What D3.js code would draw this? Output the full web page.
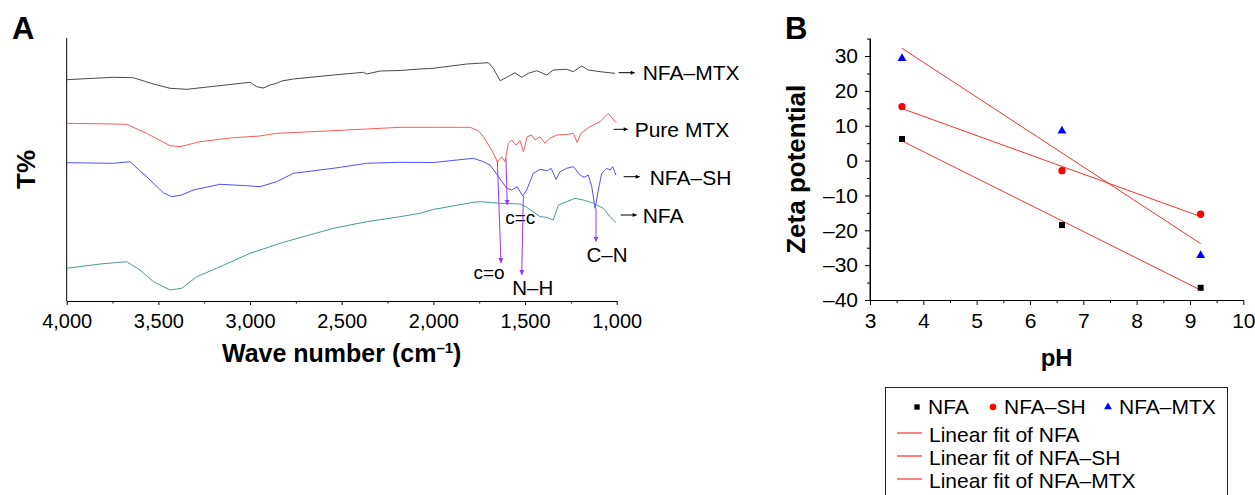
<!DOCTYPE html>
<html>
<head>
<meta charset="utf-8">
<script src="https://cdn.jsdelivr.net/npm/d3@7"></script>
<style>
  body { margin: 0; background: #fff; }
  svg { font-family: "Liberation Sans", Arial, sans-serif; }
  .axis path, .axis line { stroke: #000; stroke-width: 1; }
  .axis text { fill: #000; }
</style>
</head>
<body>
<svg id="chart" width="1255" height="495"></svg>
<script>
// ---- Panel A: FTIR spectra, [wave number, T% (arbitrary offset units)] ----
const specNFA_MTX = [
  [4000,221.3],[3855,222.7],[3746,223.7],[3637,223.3],[3527,217],[3436,212.7],[3345,211.7],
  [3182,215],[3000,218.7],[2964,214.3],[2927,213],[2891,216],[2855,217.7],[2827,220],[2764,222],
  [2545,226],[2382,228.7],[2364,227],[2291,230],[2182,230.5],[2073,232],[2000,232.7],[1818,237],
  [1700,238.3],[1673,232.7],[1636,220.3],[1600,223.7],[1555,228.3],[1518,223.7],[1482,227.7],
  [1436,230.3],[1382,226],[1346,231],[1273,231.7],[1237,229.3],[1191,235],[1155,231],[1091,229.3],
  [1009,227.7]
];
const specPureMTX = [
  [4000,177.7],[3746,177],[3673,176.7],[3564,167.7],[3436,155.3],[3382,154.3],[3273,159.3],
  [3091,163.3],[2946,165],[2855,167.7],[2545,170.3],[2364,172],[2182,173.7],[2000,173.7],
  [1800,173.7],[1755,170.3],[1727,164.3],[1682,151],[1651,139.3],[1627,144.3],[1609,139.3],
  [1591,157.7],[1573,161],[1549,156],[1527,160.3],[1509,149.3],[1488,164.3],[1464,166],
  [1445,161],[1418,164.3],[1391,157.7],[1364,162.7],[1327,166],[1273,166.5],[1236,167.7],
  [1215,158.3],[1196,167.7],[1146,174.3],[1091,179.3],[1046,187.7],[1004,178.3]
];
const specNFA_SH = [
  [4000,138.3],[3746,137.7],[3655,139.3],[3564,124.3],[3473,108.3],[3427,104.3],[3373,106],
  [3309,111],[3164,116.7],[3018,115.3],[2946,114.3],[2855,119.3],[2764,127.7],[2545,132.7],
  [2364,137.7],[2182,138.7],[2000,138.5],[1782,142.7],[1727,139.3],[1691,136],[1645,124.3],
  [1600,112.7],[1573,111],[1542,114.3],[1513,105],[1491,111],[1455,127.7],[1418,131.7],
  [1378,130.3],[1358,132.7],[1331,121.7],[1309,129.3],[1273,132.7],[1236,134.3],[1200,126],
  [1178,123.7],[1155,126],[1136,114.3],[1118,92.7],[1100,111],[1082,127.7],[1055,132.7],
  [1036,131],[1022,134.3],[1004,126]
];
const specNFA = [
  [4000,32.7],[3818,37],[3673,39.3],[3600,31],[3527,19.3],[3436,11],[3373,12.7],[3291,24.3],
  [3182,32.7],[3000,47.7],[2818,58.7],[2545,72.7],[2364,79.3],[2182,84.3],[2073,87.7],
  [2000,91.7],[1964,92.7],[1782,98.7],[1745,99.3],[1636,97.7],[1527,97],[1491,93.7],[1418,84.3],
  [1382,83.7],[1346,81],[1318,96],[1273,99.3],[1227,102.7],[1182,101],[1127,97.7],[1073,92.7],
  [1036,84.3],[1004,78.3]
];
const spectraNames  = ["NFA–MTX", "Pure MTX", "NFA–SH", "NFA"];
const spectraData   = [specNFA_MTX, specPureMTX, specNFA_SH, specNFA];
const spectraColors = ["#4a4a4a", "#ff5a5a", "#5050ff", "#4a9a98"];

// peak assignments: label, wave number at peak / at arrow tip, T at peak / at tip
const peakLabels = ["c=o", "c=c", "N–H", "C–N"];
const peakWnFrom = [1651, 1604, 1509, 1113];
const peakWnTo   = [1631, 1597, 1518, 1113];
const peakTFrom  = [140.3, 142.7, 105, 92.7];
const peakTTo    = [38, 96, 26, 59.3];

const wnMajor = [4000, 3500, 3000, 2500, 2000, 1500, 1000];
const wnMinor = [3750, 3250, 2750, 2250, 1750, 1250];

// ---- Panel B: zeta potential vs pH ----
const pH       = [3.6, 6.6, 9.2];
const zetaNFA    = [6.2, -18.5, -36.5];
const zetaNFA_SH = [15.5, -2.9, -15.4];
const zetaNFA_MTX = [29.3, 8.5, -27.2];
const zetaNames = ["NFA", "NFA–SH", "NFA–MTX"];
const zetaSeries = [zetaNFA, zetaNFA_SH, zetaNFA_MTX];
const zetaColors = ["#000", "#ff0000", "#0000ff"];

const pHTicks = [3, 4, 5, 6, 7, 8, 9, 10];
const pHMinor = [3.5, 4.5, 5.5, 6.5, 7.5, 8.5, 9.5];
const zTicks = [-40, -30, -20, -10, 0, 10, 20, 30];
const zMinor = [-35, -25, -15, -5, 5, 15, 25, 35];

const svg = d3.select("#chart");
const FONT = '"Liberation Sans", Arial, sans-serif';
const FIT_RED = "#ff3030";

const defs = svg.append("defs");
defs.append("marker").attr("id", "purpleHead")
  .attr("viewBox", "0 0 10 10").attr("refX", 10).attr("refY", 5)
  .attr("markerWidth", 5).attr("markerHeight", 7).attr("markerUnits", "userSpaceOnUse")
  .attr("orient", "auto")
  .append("path").attr("d", "M0,0L10,5L0,10Z").attr("fill", "#9933ff");
defs.append("marker").attr("id", "blackHead")
  .attr("viewBox", "0 0 10 10").attr("refX", 10).attr("refY", 5)
  .attr("markerWidth", 6).attr("markerHeight", 4).attr("markerUnits", "userSpaceOnUse")
  .attr("orient", "auto")
  .append("path").attr("d", "M0,0L10,5L0,10Z").attr("fill", "#000");

// ================= Panel A =================
const xA = d3.scaleLinear().domain([4000, 1000]).range([66.7, 616.7]);
const yA = d3.scaleLinear().domain([0, 263]).range([301, 38]);

const gA = svg.append("g");

gA.append("g").attr("class", "axis")
  .attr("transform", `translate(0,${yA(0)})`)
  .call(d3.axisBottom(xA).tickValues(wnMinor).tickSize(2.5).tickFormat(""))
  .select(".domain").remove();
gA.append("g").attr("class", "axis")
  .attr("transform", `translate(0,${yA(0)})`)
  .call(d3.axisBottom(xA).tickValues(wnMajor).tickSize(4).tickSizeOuter(0)
        .tickPadding(9).tickFormat(d3.format(",")))
  .call(g => g.selectAll("text").attr("font-size", 20).attr("font-family", FONT));
gA.append("line").attr("stroke", "#000")
  .attr("x1", xA(4000)).attr("x2", xA(4000)).attr("y1", yA(0)).attr("y2", yA(263));

const lineA = d3.line().x(d => xA(d[0])).y(d => yA(d[1]));
gA.selectAll("path.spec").data(spectraData).join("path")
  .attr("class", "spec")
  .attr("d", lineA)
  .attr("fill", "none")
  .attr("stroke", (d, i) => spectraColors[i])
  .attr("stroke-width", 1);

// curve name labels with small arrows (offsets in pixels from the last point)
const nameOffsets = [[2, 16, 24, 7.3], [-3, 14, 21, 8], [7, 16, 26, 8.3], [4, 16, 22, 8.3]];
const nameT = [228.3, 171.7, 124.3, 86];
spectraNames.forEach((n, i) => {
  const x0 = xA(1000) + nameOffsets[i][0];
  const y0 = yA(nameT[i]);
  gA.append("line").attr("x1", x0).attr("x2", x0 + nameOffsets[i][1])
    .attr("y1", y0).attr("y2", y0).attr("stroke", "#000").attr("stroke-width", 1)
    .attr("marker-end", "url(#blackHead)");
  gA.append("text").attr("x", x0 + nameOffsets[i][2]).attr("y", y0 + nameOffsets[i][3])
    .attr("font-size", 21).text(n);
});

// peak assignment arrows
const peakLabelDx = [-12, 13, 11, 11];
const peakLabelDy = [16, 19, 20, 20];
const peakFont = [19, 19, 20.5, 20.5];
peakLabels.forEach((lab, i) => {
  gA.append("line")
    .attr("x1", xA(peakWnFrom[i])).attr("y1", yA(peakTFrom[i]))
    .attr("x2", xA(peakWnTo[i])).attr("y2", yA(peakTTo[i]))
    .attr("stroke", "#9933ff").attr("stroke-width", 1)
    .attr("marker-end", "url(#purpleHead)");
  gA.append("text")
    .attr("x", xA(peakWnTo[i]) + peakLabelDx[i]).attr("y", yA(peakTTo[i]) + peakLabelDy[i])
    .attr("text-anchor", "middle").attr("font-size", peakFont[i]).text(lab);
});

// titles
gA.append("text").attr("x", 12).attr("y", 39).attr("font-size", 31).attr("font-weight", "bold").text("A");
gA.append("text").attr("transform", `translate(35,${(yA(0) + yA(263)) / 2}) rotate(-90)`)
  .attr("text-anchor", "middle").attr("font-size", 26).attr("font-weight", "bold").text("T%");
const xt = gA.append("text").attr("x", (xA(4000) + xA(1000)) / 2).attr("y", 362)
  .attr("text-anchor", "middle").attr("font-size", 25).attr("font-weight", "bold");
xt.append("tspan").text("Wave number (cm");
xt.append("tspan").attr("font-size", 15).attr("dy", -9).text("–1");
xt.append("tspan").attr("dy", 9).text(")");

// ================= Panel B =================
const xB = d3.scaleLinear().domain([3, 10]).range([870, 1243.3]);
const yB = d3.scaleLinear().domain([-40, 35]).range([300, 38.6]);
const gB = svg.append("g");
const fmtZ = d => d < 0 ? "–" + Math.abs(d) : String(d);

gB.append("g").attr("class", "axis").attr("transform", `translate(0,${yB(-40)})`)
  .call(d3.axisBottom(xB).tickValues(pHMinor).tickSize(3).tickFormat(""))
  .select(".domain").remove();
gB.append("g").attr("class", "axis").attr("transform", `translate(0,${yB(-40)})`)
  .call(d3.axisBottom(xB).tickValues(pHTicks).tickSize(5).tickSizeOuter(0).tickPadding(8)
        .tickFormat(d3.format("d")))
  .call(g => g.selectAll("text").attr("font-size", 21).attr("font-family", FONT));
gB.append("g").attr("class", "axis").attr("transform", `translate(${xB(3)},0)`)
  .call(d3.axisLeft(yB).tickValues(zMinor).tickSize(3).tickFormat(""))
  .select(".domain").remove();
gB.append("g").attr("class", "axis").attr("transform", `translate(${xB(3)},0)`)
  .call(d3.axisLeft(yB).tickValues(zTicks).tickSize(5).tickSizeOuter(0).tickPadding(7).tickFormat(fmtZ))
  .call(g => g.selectAll("text").attr("font-size", 21).attr("font-family", FONT));
gB.append("line").attr("stroke", "#000")
  .attr("x1", xB(3)).attr("x2", xB(3)).attr("y1", yB(-40)).attr("y2", yB(35));

// linear fits
function linfit(xs, ys) {
  const mx = d3.mean(xs), my = d3.mean(ys);
  const sxy = d3.sum(xs, (x, i) => (x - mx) * (ys[i] - my));
  const sxx = d3.sum(xs, x => (x - mx) ** 2);
  const b = sxy / sxx;
  return { b, a: my - b * mx };
}
zetaSeries.forEach(ys => {
  const f = linfit(pH, ys);
  const x0 = d3.min(pH), x1 = d3.max(pH);
  gB.append("line")
    .attr("x1", xB(x0)).attr("y1", yB(f.a + f.b * x0))
    .attr("x2", xB(x1)).attr("y2", yB(f.a + f.b * x1))
    .attr("stroke", FIT_RED).attr("stroke-width", 1);
});

const symbols = [d3.symbolSquare, d3.symbolCircle, d3.symbolTriangle];
const symSize = [36, 42, 34];
zetaSeries.forEach((ys, k) => {
  gB.selectAll(null).data(ys).join("path")
    .attr("transform", (d, i) => `translate(${xB(pH[i])},${yB(d)})`)
    .attr("d", d3.symbol(symbols[k], symSize[k]))
    .attr("fill", zetaColors[k]);
});

gB.append("text").attr("x", 785).attr("y", 39).attr("font-size", 31).attr("font-weight", "bold").text("B");
gB.append("text").attr("transform", `translate(805,${(yB(-40) + yB(35)) / 2}) rotate(-90)`)
  .attr("text-anchor", "middle").attr("font-size", 26).attr("font-weight", "bold").text("Zeta potential");
gB.append("text").attr("x", (xB(3) + xB(10)) / 2).attr("y", 366)
  .attr("text-anchor", "middle").attr("font-size", 24).attr("font-weight", "bold").text("pH");

// legend
const lg = gB.append("g");
lg.append("rect").attr("x", 885.5).attr("y", 387.5).attr("width", 342).attr("height", 120)
  .attr("fill", "#fff").attr("stroke", "#222").attr("stroke-width", 1);
const legSymX = [917, 993, 1108];
zetaNames.forEach((n, k) => {
  lg.append("path").attr("transform", `translate(${legSymX[k]},407)`)
    .attr("d", d3.symbol(symbols[k], symSize[k] * 0.8)).attr("fill", zetaColors[k]);
  lg.append("text").attr("x", legSymX[k] + 11).attr("y", 414).attr("font-size", 21).text(n);
});
zetaNames.forEach((n, k) => {
  const y = 433 + k * 23;
  lg.append("line").attr("x1", 897).attr("x2", 922).attr("y1", y).attr("y2", y)
    .attr("stroke", FIT_RED).attr("stroke-width", 1.2);
  lg.append("text").attr("x", 929).attr("y", y + 8.5).attr("font-size", 21).text("Linear fit of " + n);
});
</script>
</body>
</html>
